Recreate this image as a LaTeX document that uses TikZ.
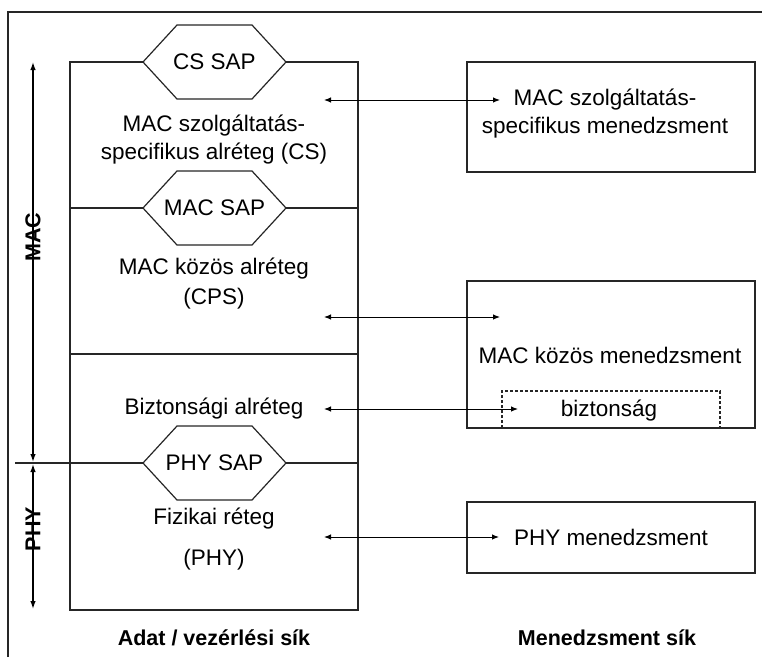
\documentclass[tikz,border=0pt]{standalone}
\usepackage{fontspec}
\setmainfont{Liberation Sans}
\usetikzlibrary{arrows.meta}
\begin{document}
\begin{tikzpicture}[x=1pt,y=-1pt,
  ln/.style={draw=black!85,line width=1.2pt},
  txt/.style={font=\fontsize{22.5}{28}\selectfont,align=center,inner sep=0pt},
  bold/.style={font=\fontsize{21.5}{26}\selectfont\bfseries,inner sep=0pt},
  mbox/.style={ln,minimum width=288pt,inner sep=0pt},
  hexa/.style={ln,fill=white},
  tip/.style={line width=1pt,{Latex[length=7pt,width=5.5pt]}-{Latex[length=7pt,width=5.5pt]}},
  vtip/.style={line width=1.3pt,{Latex[length=8pt,width=5.5pt]}-{Latex[length=8pt,width=5.5pt]}}]
\useasboundingbox (0,0) rectangle (762,657);
% outer frame
\coordinate (f0) at (8,12);
\coordinate (f1) at (762,12);
\coordinate (f2) at (8,657);
\draw[ln] (f2) -- (f0) -- (f1);
% main box
\node[ln,minimum width=288pt,minimum height=548pt,inner sep=0pt] (main) at (214,336) {};
\coordinate (l1a) at (70,208); \coordinate (l1b) at (358,208);
\coordinate (l2a) at (70,354); \coordinate (l2b) at (358,354);
\coordinate (l3a) at (15,463); \coordinate (l3b) at (358,463);
\draw[ln] (l1a) -- (l1b);
\draw[ln] (l2a) -- (l2b);
\draw[ln] (l3a) -- (l3b);
% hexagons
\foreach \n/\cy/\t in {cs/62/CS SAP, macsap/208/MAC SAP, physap/463/PHY SAP}{
  \draw[hexa] (143,\cy) -- (177,\cy-37) -- (252,\cy-37) -- (286,\cy) -- (252,\cy+37) -- (177,\cy+37) -- cycle;
  \node[txt] (\n) at (214.5,\cy) {\t};
}
% left layer texts
\node[txt] (cstext) at (214,140) {MAC szolgáltatás-\\specifikus alréteg (CS)};
\node[txt,font=\fontsize{22.5}{30}\selectfont] (cpstext) at (214,284) {MAC közös alréteg\\(CPS)};
\node[txt] (sectext) at (214,409) {Biztonsági alréteg};
\node[txt] (phytext1) at (214,519) {Fizikai réteg};
\node[txt] (phytext2) at (214,560) {(PHY)};
% right boxes
\node[mbox,minimum height=110pt] (m1) at (611,117) {};
\node[txt] (m1t) at (605,114) {MAC szolgáltatás-\\specifikus menedzsment};
\node[mbox,minimum height=147pt] (m2) at (611,354.5) {};
\node[txt] (m2t) at (610,355) {MAC közös menedzsment};
\coordinate (d0) at (502,428); \coordinate (d1) at (502,391);
\coordinate (d2) at (720,391); \coordinate (d3) at (720,428);
\draw[draw=black!85,line width=1.1pt,dash pattern=on 3pt off 2pt] (d0) -- (d1) -- (d2) -- (d3);
\node[txt] (bizt) at (609,411) {biztonság};
\node[mbox,minimum height=71pt] (m3) at (611,537.5) {};
\node[txt] (m3t) at (611,537) {PHY menedzsment};
% arrows
\coordinate (a1l) at (324,100); \coordinate (a1r) at (500,100);
\coordinate (a2l) at (324,317); \coordinate (a2r) at (500,317);
\coordinate (a3l) at (324,409); \coordinate (a3r) at (518,409);
\coordinate (a4l) at (324,537); \coordinate (a4r) at (499,537);
\draw[tip] (a1l) -- (a1r);
\draw[tip] (a2l) -- (a2r);
\draw[tip] (a3l) -- (a3r);
\draw[tip] (a4l) -- (a4r);
% left MAC / PHY arrows
\coordinate (v0) at (33,62); \coordinate (v1) at (33,462);
\coordinate (v2) at (33,464); \coordinate (v3) at (33,609);
\draw[vtip] (v0) -- (v1);
\draw[vtip] (v2) -- (v3);
\node[bold,rotate=90] (maclab) at (33,237) {MAC};
\node[bold,rotate=90] (phylab) at (33,529) {PHY};
% bottom labels
\node[bold] (adat) at (214,638) {Adat / vezérlési sík};
\node[bold] (menplane) at (607,638) {Menedzsment sík};
\end{tikzpicture}
\end{document}
